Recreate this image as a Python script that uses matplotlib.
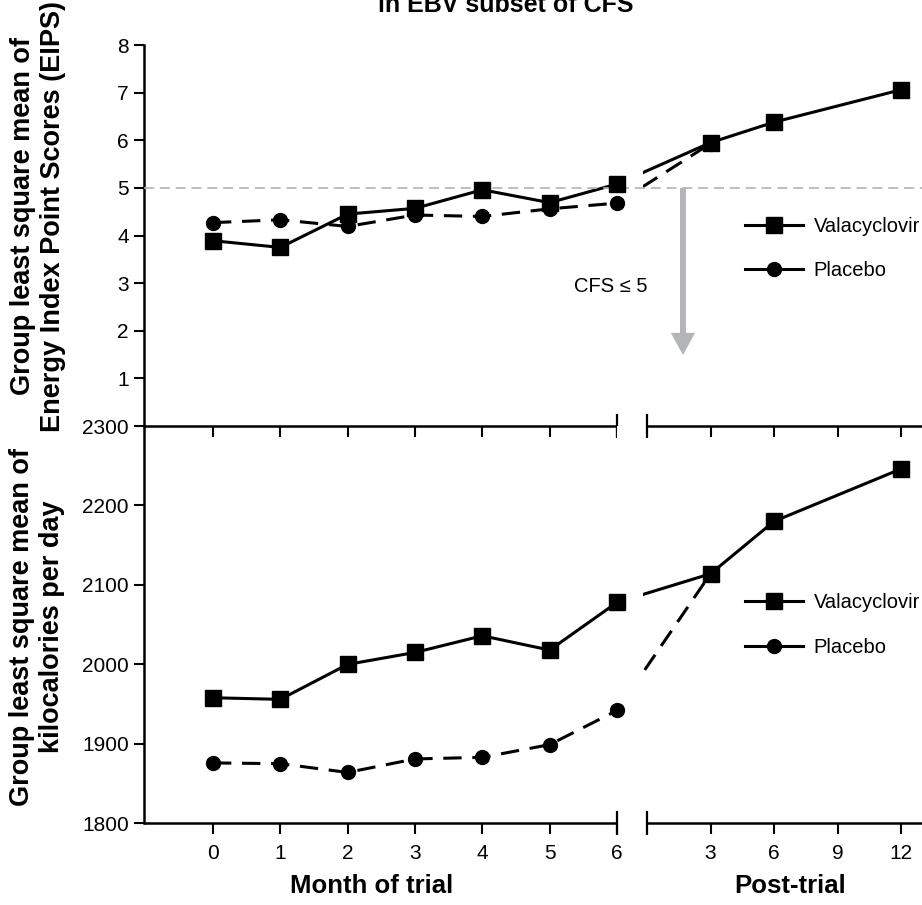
import numpy as np
import matplotlib
matplotlib.use("Agg")
from matplotlib import pyplot as plt
from matplotlib.lines import Line2D

plt.rcParams['font.family'] = ['Liberation Sans', 'DejaVu Sans']

# data
trial_months = [0, 1, 2, 3, 4, 5, 6]
post_months_val = [3, 6, 12]
post_months_pla = [3]
post_ticks = [3, 6, 9, 12]

eips_val_trial = [3.89, 3.75, 4.45, 4.57, 4.96, 4.69, 5.08]
eips_val_post = [5.95, 6.38, 7.06]
eips_pla_trial = [4.27, 4.33, 4.19, 4.43, 4.40, 4.56, 4.68]
eips_pla_post = [5.93]

kcal_val_trial = [1958, 1956, 2000, 2015, 2036, 2018, 2078]
kcal_val_post = [2114, 2180, 2246]
kcal_pla_trial = [1876, 1875, 1864, 1881, 1883, 1899, 1942]
kcal_pla_post = [2114]

# layout of the broken x axis (trial months are one unit each)
GAP = 0.4456          # distance between trial month 6 and post-trial month 0
POST_SCALE = 0.3144   # one post-trial month in trial-month units
XLIM = (-1.025, 10.53)
BAND = (6.0, 6.38)    # blank stretch of the lines around the break


def post_x(p):
    return 6 + GAP + np.asarray(p, dtype=float) * POST_SCALE


fig = plt.figure(figsize=(9.22, 9.05), dpi=100)
ax_top = fig.add_axes([0.15618, 0.52928, 0.84382, 0.42099])
ax_bot = fig.add_axes([0.15618, 0.09028, 0.84382, 0.43900])

LW = 2.2
SPINE = 1.8


def draw_series(ax, x, y, marker, ms, dashed):
    kw = dict(color='black', lw=LW, zorder=2, solid_capstyle='butt')
    if dashed:
        kw['dashes'] = (6, 3.5)
    ax.plot(x, y, **kw)
    ax.plot(x, y, ls='none', marker=marker, ms=ms, color='black', zorder=3)


def style_axis(ax, ylim, yticks, labels):
    ax.patch.set_visible(False)
    ax.set_xlim(*XLIM)
    ax.set_ylim(*ylim)
    ax.set_yticks(yticks)
    for s in ['top', 'right', 'bottom']:
        ax.spines[s].set_visible(False)
    ax.spines['left'].set_linewidth(SPINE)
    ax.tick_params(axis='y', direction='out', length=7.5, width=1.5,
                   labelsize=15, pad=3.5)
    xt = list(trial_months) + list(post_x(post_ticks))
    ax.set_xticks(xt)
    if labels:
        ax.set_xticklabels([str(m) for m in trial_months] + [str(p) for p in post_ticks])
    else:
        ax.set_xticklabels([])
    ax.tick_params(axis='x', direction='out', length=8, width=1.5,
                   labelsize=15, pad=7)
    # hand-drawn broken x axis
    tr = ax.get_xaxis_transform()
    ax.plot([XLIM[0], 6], [0, 0], transform=tr, color='black', lw=SPINE,
            clip_on=False, zorder=5, solid_capstyle='butt')
    ax.plot([post_x(0), XLIM[1]], [0, 0], transform=tr, color='black', lw=SPINE,
            clip_on=False, zorder=5, solid_capstyle='butt')
    ax.plot([6, post_x(0)], [0, 0], transform=tr, ls='none', marker='|',
            ms=17, mew=1.6, color='black', clip_on=False, zorder=5)
    ax.axvspan(BAND[0], BAND[1], color='white', lw=0, zorder=2.2)


def add_legend(ax, y_anchor, spacing):
    handles = [Line2D([], [], color='black', lw=LW, marker='s', ms=12),
               Line2D([], [], color='black', lw=LW, marker='o', ms=10)]
    ax.legend(handles, ['Valacyclovir', 'Placebo'], loc='center left',
              bbox_to_anchor=(0.7725, y_anchor), frameon=False, fontsize=14.5,
              handlelength=2.9, handletextpad=0.5, labelspacing=spacing,
              borderpad=0, borderaxespad=0)


# top panel: energy index point scores
style_axis(ax_top, (0, 8), range(1, 9), labels=False)
draw_series(ax_top, trial_months + list(post_x(post_months_pla)),
            eips_pla_trial + eips_pla_post, 'o', 10, dashed=True)
draw_series(ax_top, trial_months + list(post_x(post_months_val)),
            eips_val_trial + eips_val_post, 's', 12, dashed=False)
ax_top.axhline(5, color='#b3b3b3', lw=1.2, dashes=(6, 3.5), zorder=2.6)
ax_top.annotate('', xy=(6.98, 1.49), xytext=(6.98, 5.0),
                arrowprops=dict(arrowstyle='simple,head_length=1.6,head_width=1.75,tail_width=0.43',
                                mutation_scale=10, fc='#b3b5b8', ec='none',
                                shrinkA=0, shrinkB=0))
ax_top.text(6.46, 2.92, 'CFS \u2264 5', ha='right', va='center', fontsize=14.5)
add_legend(ax_top, 0.465, 1.25)

# bottom panel: kilocalories per day
style_axis(ax_bot, (1800, 2300), range(1800, 2301, 100), labels=True)
draw_series(ax_bot, trial_months + list(post_x(post_months_pla)),
            kcal_pla_trial + kcal_pla_post, 'o', 10, dashed=True)
draw_series(ax_bot, trial_months + list(post_x(post_months_val)),
            kcal_val_trial + kcal_val_post, 's', 12, dashed=False)
add_legend(ax_bot, 0.500, 1.3)

# labels
fig.text(38 / 922, 1 - 216 / 905, 'Group least square mean of\nEnergy Index Point Scores (EIPS)',
         rotation=90, ha='center', va='center', fontsize=19.5, fontweight='bold',
         multialignment='center', linespacing=1.2)
fig.text(37 / 922, 1 - 627 / 905, 'Group least square mean of\nkilocalories per day',
         rotation=90, ha='center', va='center', fontsize=19.5, fontweight='bold',
         multialignment='center', linespacing=1.2)
fig.text(506 / 922, 1 - 12 / 905, 'in EBV subset of CFS', ha='center', va='baseline',
         fontsize=18, fontweight='bold')
fig.text(372 / 922, 1 - 893 / 905, 'Month of trial', ha='center', va='baseline',
         fontsize=18.5, fontweight='bold')
fig.text(790 / 922, 1 - 893 / 905, 'Post-trial', ha='center', va='baseline',
         fontsize=18.5, fontweight='bold')

fig.savefig('out.png', dpi=100)
